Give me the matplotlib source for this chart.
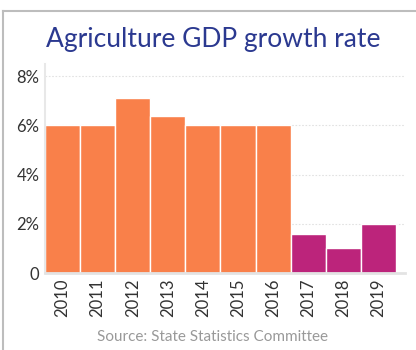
import matplotlib
matplotlib.use('Agg')
import matplotlib.pyplot as plt
from matplotlib.lines import Line2D

# Agriculture GDP growth, percent per year
years = ['2010', '2011', '2012', '2013', '2014', '2015', '2016', '2017', '2018', '2019']
growth = [6.0, 6.0, 7.1, 6.4, 6.0, 6.0, 6.0, 1.6, 1.0, 2.0]
bar_colors = ['#F9804A'] * 7 + ['#BC247B'] * 3
y_ticks = [0, 2, 4, 6, 8]
y_labels = ['0', '2%', '4%', '6%', '8%']

plt.rcParams['font.family'] = ['Lato', 'DejaVu Sans']

fig = plt.figure(figsize=(4.16, 3.5), dpi=100)
W, H = 416, 350

# outer frame (top and left edges visible)
fig.add_artist(Line2D([3 / W, 1], [1 - 11 / H, 1 - 11 / H], color='#bdbdbd', lw=1.5))
fig.add_artist(Line2D([3 / W, 3 / W], [0, 1 - 11 / H], color='#bdbdbd', lw=1.5))

ax = fig.add_axes([45 / W, 77 / H, 360 / W, 209 / H])
x = range(len(years))
ax.bar(x, growth, width=1.0, color=bar_colors, edgecolor='white', linewidth=1.0, zorder=2)

ax.set_xlim(-0.5, 9.76)
ax.set_ylim(0, 8.5)
ax.set_yticks(y_ticks)
ax.set_yticklabels(y_labels, fontsize=12, color='#333333')
ax.set_xticks(list(x))
ax.set_xticklabels(years, rotation=90, fontsize=12, color='#333333')
ax.tick_params(axis='both', length=0, pad=4)

for y in y_ticks[1:]:
    ax.axhline(y, color='#e2e2e2', lw=0.8, ls=(0, (1.5, 1.5)), zorder=1)

for side in ['top', 'right']:
    ax.spines[side].set_visible(False)
ax.spines['left'].set_color('#e8e8e8')
ax.spines['left'].set_linewidth(1.5)
ax.spines['bottom'].set_color('#e3e3e3')
ax.spines['bottom'].set_linewidth(2)

fig.text(213 / W, 1 - 40 / H, 'Agriculture GDP growth rate', ha='center', va='center',
         fontsize=19, color='#2B3990')
fig.text(213 / W, 1 - 337 / H, 'Source: State Statistics Committee', ha='center', va='center',
         fontsize=11, color='#999999')

fig.savefig('out.png', dpi=100)
